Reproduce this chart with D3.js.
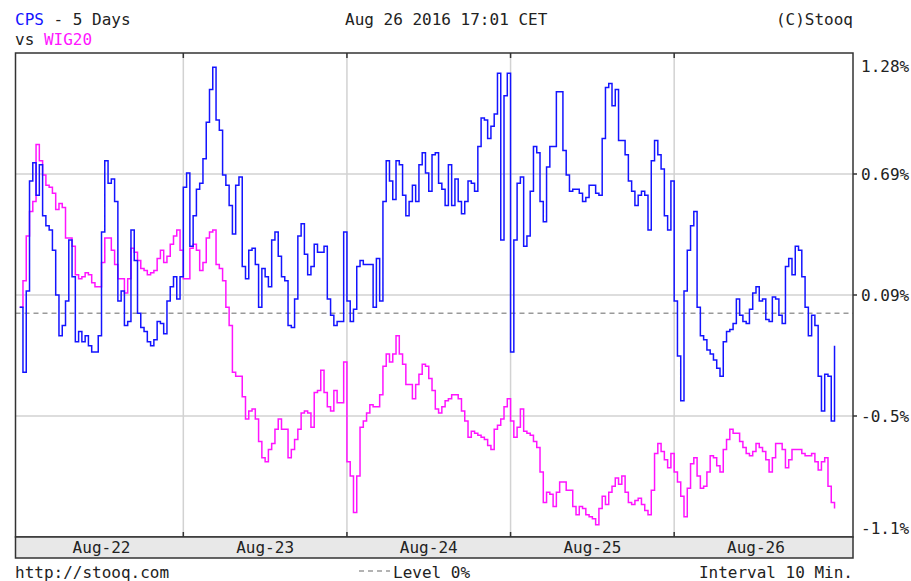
<!DOCTYPE html>
<html>
<head>
<meta charset="utf-8">
<script src="https://cdn.jsdelivr.net/npm/d3@7"></script>
<style>
  html, body { margin: 0; padding: 0; background: #fff; }
  svg { display: block; }
  text { font-family: "DejaVu Sans Mono", "Liberation Mono", monospace; font-size: 16px; fill: #222; }
</style>
</head>
<body>
<svg id="chart" width="911" height="581"></svg>
<script>
// ---------- DATA ----------
const days = ["Aug-22", "Aug-23", "Aug-24", "Aug-25", "Aug-26"];
const pointsPerDay = 50;   // 10-minute interval samples per session

// CPS (% change vs. start of period), 50 points per day
const cps = [
  // Aug-22
  0.03,-0.29,0.11,0.65,0.74,0.58,0.73,0.48,0.43,0.41,0.31,0.09,-0.11,-0.06,0.06,0.36,0.18,-0.14,-0.09,-0.14,
  -0.11,-0.16,-0.19,-0.19,-0.11,0.40,0.75,0.64,0.66,0.55,0.06,0.11,-0.06,-0.04,0.41,0.26,0.00,-0.07,-0.09,-0.14,
  -0.16,-0.13,-0.04,-0.05,-0.10,0.06,0.13,0.18,0.07,0.18,
  // Aug-23
  0.62,0.69,0.33,0.48,0.61,0.64,0.76,0.94,1.10,1.21,0.95,0.90,0.68,0.63,0.53,0.39,0.63,0.67,0.23,0.17,
  0.31,0.32,0.24,0.03,0.22,0.18,0.13,0.36,0.40,0.28,0.18,0.16,-0.06,-0.07,0.07,0.38,0.44,0.29,0.19,0.23,
  0.34,0.30,0.30,0.33,0.07,-0.01,-0.06,-0.04,-0.04,0.40,
  // Aug-24
  0.06,-0.04,0.02,0.23,0.26,0.24,0.24,0.24,0.03,0.27,0.06,0.55,0.75,0.65,0.56,0.75,0.73,0.58,0.48,0.55,
  0.63,0.55,0.73,0.79,0.69,0.60,0.78,0.79,0.64,0.61,0.53,0.73,0.53,0.66,0.55,0.49,0.55,0.65,0.64,0.60,
  0.82,0.96,0.95,0.86,0.92,0.98,1.18,0.36,1.07,1.18,
  // Aug-25
  -0.19,0.36,0.64,0.67,0.33,0.38,0.60,0.82,0.79,0.55,0.45,0.72,0.82,0.82,1.09,1.09,0.80,0.68,0.60,0.61,
  0.61,0.59,0.55,0.57,0.63,0.63,0.59,0.58,0.86,1.11,1.13,1.02,1.10,0.85,0.85,0.78,0.65,0.60,0.53,0.58,
  0.60,0.58,0.41,0.75,0.85,0.78,0.71,0.48,0.41,0.65,
  // Aug-26
  0.06,-0.21,-0.43,0.11,0.31,0.43,0.50,0.03,-0.11,-0.13,-0.18,-0.20,-0.23,-0.27,-0.31,-0.14,-0.09,-0.08,-0.05,0.07,
  -0.01,-0.04,-0.05,0.02,0.10,0.13,0.06,0.07,-0.03,-0.04,0.08,0.07,-0.01,-0.05,0.23,0.27,0.19,0.33,0.31,0.18,
  0.03,-0.11,-0.01,-0.06,-0.31,-0.48,-0.30,-0.31,-0.53,-0.16
];

// WIG20 (% change vs. start of period), 50 points per day
const wig20 = [
  // Aug-22
  0.03,0.16,0.38,0.50,0.55,0.83,0.75,0.68,0.63,0.62,0.59,0.51,0.54,0.52,0.37,0.37,0.33,0.19,0.17,0.18,
  0.20,0.19,0.15,0.13,0.13,0.25,0.37,0.37,0.31,0.24,0.17,0.17,0.10,0.17,0.32,0.30,0.26,0.22,0.21,0.19,
  0.20,0.21,0.27,0.31,0.25,0.28,0.34,0.38,0.41,0.31,
  // Aug-23
  0.17,0.17,0.32,0.34,0.31,0.21,0.25,0.37,0.40,0.41,0.24,0.22,0.16,0.03,-0.06,-0.29,-0.31,-0.31,-0.41,-0.52,
  -0.48,-0.47,-0.52,-0.63,-0.71,-0.73,-0.67,-0.64,-0.57,-0.52,-0.57,-0.57,-0.71,-0.67,-0.62,-0.57,-0.49,-0.48,-0.49,-0.56,
  -0.39,-0.38,-0.28,-0.39,-0.46,-0.48,-0.38,-0.44,-0.44,-0.24,
  // Aug-24
  -0.73,-0.80,-0.98,-0.80,-0.56,-0.53,-0.49,-0.45,-0.46,-0.46,-0.40,-0.26,-0.20,-0.24,-0.20,-0.11,-0.20,-0.25,-0.35,-0.35,
  -0.42,-0.35,-0.30,-0.25,-0.26,-0.32,-0.38,-0.47,-0.49,-0.46,-0.43,-0.42,-0.40,-0.40,-0.42,-0.48,-0.53,-0.61,-0.58,-0.59,
  -0.60,-0.61,-0.62,-0.65,-0.67,-0.57,-0.55,-0.52,-0.46,-0.42,
  // Aug-25
  -0.53,-0.61,-0.56,-0.47,-0.58,-0.59,-0.60,-0.63,-0.66,-0.78,-0.93,-0.88,-0.89,-0.95,-0.88,-0.83,-0.83,-0.87,-0.87,-0.95,
  -0.99,-0.95,-0.96,-0.99,-1.00,-1.01,-1.04,-0.96,-0.90,-0.94,-0.88,-0.85,-0.81,-0.84,-0.80,-0.88,-0.93,-0.94,-0.92,-0.91,
  -0.94,-0.97,-0.99,-0.87,-0.69,-0.64,-0.68,-0.72,-0.76,-0.69,
  // Aug-26
  -0.78,-0.83,-0.90,-1.00,-0.86,-0.74,-0.71,-0.80,-0.86,-0.85,-0.78,-0.70,-0.71,-0.75,-0.78,-0.67,-0.62,-0.57,-0.59,-0.59,
  -0.63,-0.66,-0.69,-0.70,-0.68,-0.64,-0.66,-0.68,-0.72,-0.78,-0.71,-0.64,-0.64,-0.67,-0.76,-0.72,-0.67,-0.67,-0.67,-0.69,
  -0.70,-0.70,-0.69,-0.73,-0.77,-0.73,-0.71,-0.85,-0.93,-0.96
];

const yMin = -1.1, yMax = 1.28;
const yTickValues = [1.28, 0.685, 0.09, -0.505, -1.1];
const yTickLabels = ["1.28%", "0.69%", "0.09%", "-0.5%", "-1.1%"];

const seriesNames = ["CPS", "WIG20"];
const headerTitle = " - 5 Days";
const headerDate = "Aug 26 2016 17:01 CET";
const headerCopy = "(C)Stooq";
const footerLeft = "http://stooq.com";
const footerMid = "Level 0%";
const footerRight = "Interval 10 Min.";

// ---------- LAYOUT ----------
const W = 911, H = 581;
const L = 15.5, R = 853, T = 53, B = 537, bandB = 558;
const BLUE = "#1414ff", MAGENTA = "#ff14ff", FRAME = "#333", GRID = "#d2d2d2";

const svg = d3.select("#chart");

const x = d3.scaleLinear().domain([0, days.length]).range([19.7, 837.8]);
const y = d3.scaleLinear().domain([yMin, yMax]).range([B, T]);

const toPoints = arr => arr.map((v, i) => ({ t: i / pointsPerDay, v }));

// background
svg.append("rect").attr("x", 0).attr("y", 0).attr("width", W).attr("height", H).attr("fill", "#fff");

// clip
svg.append("clipPath").attr("id", "plotclip")
  .append("rect").attr("x", L).attr("y", T).attr("width", R - L).attr("height", B - T);

// horizontal grid
svg.append("g").selectAll("line")
  .data(yTickValues.slice(1, -1))
  .join("line")
  .attr("x1", L).attr("x2", R)
  .attr("y1", d => y(d)).attr("y2", d => y(d))
  .attr("stroke", GRID).attr("stroke-width", 1.5);

// vertical grid (day separators)
const seps = d3.range(1, days.length);
svg.append("g").selectAll("line")
  .data(seps)
  .join("line")
  .attr("x1", d => x(d)).attr("x2", d => x(d))
  .attr("y1", T).attr("y2", B)
  .attr("stroke", GRID).attr("stroke-width", 1.5);

// zero level
svg.append("line")
  .attr("x1", L).attr("x2", R)
  .attr("y1", y(0)).attr("y2", y(0))
  .attr("stroke", "#9a9a9a").attr("stroke-width", 1.5)
  .attr("stroke-dasharray", "5,4");

// series lines
const line = d3.line()
  .x(d => x(d.t)).y(d => y(d.v))
  .curve(d3.curveStepAfter);

const plot = svg.append("g").attr("clip-path", "url(#plotclip)");
plot.append("path").datum(toPoints(wig20))
  .attr("d", line).attr("fill", "none")
  .attr("stroke", MAGENTA).attr("stroke-width", 1.5);
plot.append("path").datum(toPoints(cps))
  .attr("d", line).attr("fill", "none")
  .attr("stroke", BLUE).attr("stroke-width", 1.5);

// frame
svg.append("rect")
  .attr("x", L).attr("y", T).attr("width", R - L).attr("height", B - T)
  .attr("fill", "none").attr("stroke", FRAME).attr("stroke-width", 1.5);

// separator tick marks (top & bottom)
svg.append("g").selectAll("line")
  .data(seps.flatMap(d => [[d, T, T + 5], [d, B - 5, B]]))
  .join("line")
  .attr("x1", d => x(d[0])).attr("x2", d => x(d[0]))
  .attr("y1", d => d[1]).attr("y2", d => d[2])
  .attr("stroke", FRAME).attr("stroke-width", 1.5);

// right axis ticks
svg.append("g").selectAll("line")
  .data(yTickValues.slice(1, -1))
  .join("line")
  .attr("x1", R).attr("x2", R + 4)
  .attr("y1", d => y(d)).attr("y2", d => y(d))
  .attr("stroke", FRAME).attr("stroke-width", 1.5);

// right axis labels
svg.append("g").selectAll("text")
  .data(yTickValues)
  .join("text")
  .attr("x", 861)
  .attr("y", d => Math.min(Math.max(y(d), 66), 528))
  .attr("dy", "0.36em")
  .text((d, i) => yTickLabels[i]);

// date band
svg.append("rect")
  .attr("x", L).attr("y", B).attr("width", R - L).attr("height", bandB - B)
  .attr("fill", "#e8e8e8").attr("stroke", FRAME).attr("stroke-width", 1.5);

svg.append("g").selectAll("text")
  .data(days)
  .join("text")
  .attr("x", (d, i) => (Math.max(L, x(i)) + x(i + 1)) / 2)
  .attr("y", 553)
  .attr("text-anchor", "middle")
  .text(d => d);

// header
const h1 = svg.append("text").attr("x", 15).attr("y", 25);
h1.append("tspan").attr("fill", BLUE).style("fill", BLUE).text(seriesNames[0]);
h1.append("tspan").text(headerTitle);
const h2 = svg.append("text").attr("x", 15).attr("y", 45);
h2.append("tspan").text("vs ");
h2.append("tspan").style("fill", MAGENTA).text(seriesNames[1]);
svg.append("text").attr("x", 345).attr("y", 25).text(headerDate);
svg.append("text").attr("x", 853).attr("y", 25).attr("text-anchor", "end").text(headerCopy);

// footer
svg.append("text").attr("x", 15).attr("y", 578).text(footerLeft);
svg.append("line")
  .attr("x1", 359).attr("x2", 390).attr("y1", 571).attr("y2", 571)
  .attr("stroke", "#9a9a9a").attr("stroke-width", 1.5).attr("stroke-dasharray", "5,4");
svg.append("text").attr("x", 393).attr("y", 578).text(footerMid);
svg.append("text").attr("x", 853).attr("y", 578).attr("text-anchor", "end").text(footerRight);
</script>
</body>
</html>
